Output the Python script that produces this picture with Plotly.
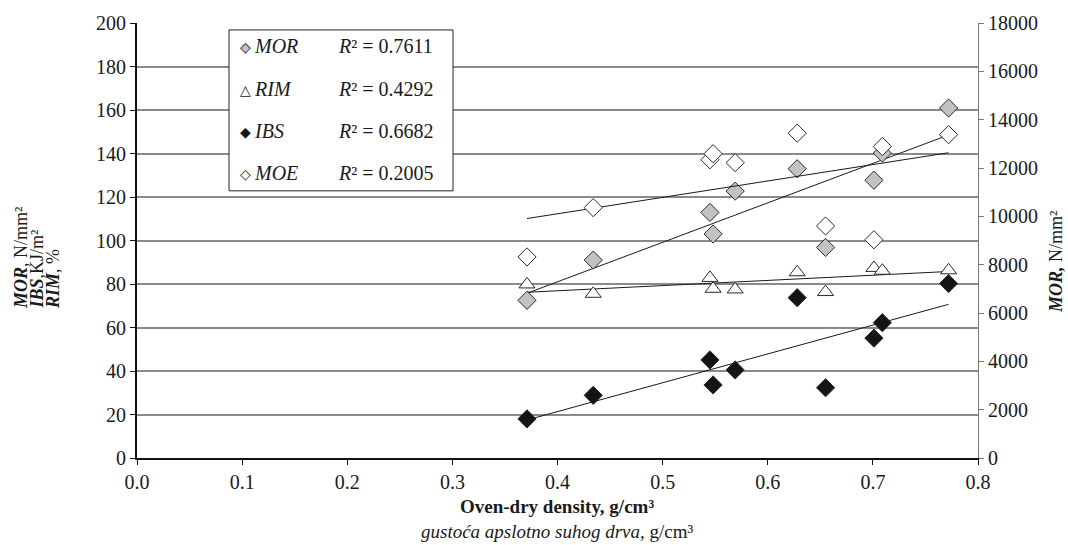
import numpy as np
import plotly.graph_objects as go

# ---- data ----
density = [0.371, 0.434, 0.545, 0.548, 0.569, 0.628, 0.655, 0.701, 0.709, 0.772]
mor = [72.5, 91.0, 112.9, 103.0, 122.7, 133.0, 96.8, 127.7, 140.2, 160.9]
rim = [79.8, 75.5, 82.8, 77.8, 77.5, 85.4, 76.3, 87.4, 86.1, 86.3]
ibs = [18.0, 28.8, 45.1, 33.6, 40.5, 73.7, 32.3, 55.1, 62.2, 80.2]
moe = [8320, 10360, 12340, 12590, 12220, 13440, 9600, 9030, 12890, 13380]

series_names = ["MOR", "RIM", "IBS", "MOE"]
r2_labels = ["0.7611", "0.4292", "0.6682", "0.2005"]

x_ticks = [0.0, 0.1, 0.2, 0.3, 0.4, 0.5, 0.6, 0.7, 0.8]
y_ticks = [0, 20, 40, 60, 80, 100, 120, 140, 160, 180, 200]
y2_ticks = [0, 2000, 4000, 6000, 8000, 10000, 12000, 14000, 16000, 18000]

FONT = "Liberation Serif, Times New Roman, serif"
TXT = "#1a1a1a"
W, H = 1068, 545
L, R, T, B = 137, 90, 20, 87
PW, PH = W - L - R, H - T - B


def px(xp):
    return (xp - L) / PW


def py(yp):
    return (H - B - yp) / PH


fig = go.Figure()

outline = dict(color="#2a2a2a", width=1)
marker_styles = {
    "MOR": dict(symbol="diamond", size=14, color="#c2c2c2", line=outline),
    "RIM": dict(symbol="triangle-up", size=14, color="white", line=outline),
    "IBS": dict(symbol="diamond", size=14, color="#141414", line=outline),
    "MOE": dict(symbol="diamond", size=14, color="white", line=outline),
}
data = {"MOR": mor, "RIM": rim, "IBS": ibs, "MOE": moe}

xd = np.array(density)
xs = np.array([xd.min(), xd.max()])
for name in series_names:
    yv = np.array(data[name])
    axis = "y2" if name == "MOE" else "y"
    k, b = np.polyfit(xd, yv, 1)
    fig.add_trace(go.Scatter(x=xs, y=k * xs + b, mode="lines", yaxis=axis,
                             line=dict(color="#1a1a1a", width=1),
                             showlegend=False, hoverinfo="skip"))
for name in ["MOE", "MOR", "RIM", "IBS"]:
    axis = "y2" if name == "MOE" else "y"
    fig.add_trace(go.Scatter(x=density, y=data[name], mode="markers", yaxis=axis,
                             name=name, marker=marker_styles[name], showlegend=False))

tickfont = dict(family=FONT, size=20, color=TXT)
fig.update_layout(
    width=W, height=H,
    margin=dict(l=L, r=R, t=T, b=B),
    paper_bgcolor="white", plot_bgcolor="white",
    showlegend=False,
    xaxis=dict(range=[0, 0.8], tickvals=x_ticks, tickformat=".1f",
               showgrid=False, zeroline=False,
               showline=True, linecolor="#111", linewidth=2,
               ticks="outside", ticklen=5, tickcolor="#111",
               tickfont=tickfont),
    yaxis=dict(range=[0, 200], tickvals=y_ticks,
               showgrid=True, gridcolor="#8a8a8a", gridwidth=1.5,
               zeroline=False, showline=True, linecolor="#111", linewidth=2,
               ticks="outside", ticklen=5, tickcolor="#111",
               tickfont=tickfont),
    yaxis2=dict(range=[0, 18000], tickvals=y2_ticks, tickformat="d",
                overlaying="y", side="right",
                showgrid=False, zeroline=False, showline=True,
                linecolor="#7a7a7a", linewidth=1,
                ticks="outside", ticklen=5, tickcolor="#7a7a7a",
                tickfont=tickfont),
)

# legend box
fig.add_shape(type="rect", xref="paper", yref="paper",
              x0=px(229), x1=px(453), y0=py(189), y1=py(27),
              fillcolor="white", line=dict(color="#222", width=1), layer="above")

rows = [43, 86, 129, 171]
sym = {
    "MOR": [("◆", "#c2c2c2"), ("◇", "#222")],
    "RIM": [("△", "#222")],
    "IBS": [("◆", "#141414")],
    "MOE": [("◇", "#222")],
}
ann = []
for name, r2, yr in zip(series_names, r2_labels, rows):
    for g, c in sym[name]:
        ann.append(dict(text=g, x=px(245), y=py(yr + 1), xref="paper", yref="paper",
                        xanchor="center", yanchor="middle", showarrow=False,
                        font=dict(family="DejaVu Sans", size=14, color=c)))
    ann.append(dict(text=f"<i>{name}</i>", x=px(252), y=py(yr), xref="paper", yref="paper",
                    xanchor="left", yanchor="middle", showarrow=False,
                    font=dict(family=FONT, size=20, color=TXT)))
    ann.append(dict(text=f"<i>R</i>² = {r2}", x=px(336), y=py(yr), xref="paper", yref="paper",
                    xanchor="left", yanchor="middle", showarrow=False,
                    font=dict(family=FONT, size=20, color=TXT)))

# x-axis titles
ann.append(dict(text="<b>Oven-dry density, g/cm³</b>", x=px(557), y=py(507),
                xref="paper", yref="paper", xanchor="center", yanchor="middle",
                showarrow=False, font=dict(family=FONT, size=19, color=TXT)))
ann.append(dict(text="<i>gustoća apslotno suhog drva,</i> g/cm³", x=px(557), y=py(532),
                xref="paper", yref="paper", xanchor="center", yanchor="middle",
                showarrow=False, font=dict(family=FONT, size=19, color=TXT)))

# left axis title (three rotated lines)
left_lines = ["<b><i>MOR</i></b>, N/mm²", "<b><i>IBS</i></b>,KJ/m²", "<b><i>RIM</i></b>, %"]
for t, xc in zip(left_lines, [21, 37, 53]):
    ann.append(dict(text=t, x=px(xc), y=py(310), xref="paper", yref="paper",
                    xanchor="center", yanchor="bottom", textangle=-90, showarrow=False,
                    font=dict(family=FONT, size=18, color=TXT)))
ann.append(dict(text="<b><i>MOR,</i></b> N/mm²", x=px(1056), y=py(314), xref="paper", yref="paper",
                xanchor="center", yanchor="bottom", textangle=-90, showarrow=False,
                font=dict(family=FONT, size=18, color=TXT)))

fig.update_layout(annotations=ann)
fig.write_html("out.html", config={"displayModeBar": False},
               post_script="document.body.style.margin='0';document.body.style.overflow='hidden';")
